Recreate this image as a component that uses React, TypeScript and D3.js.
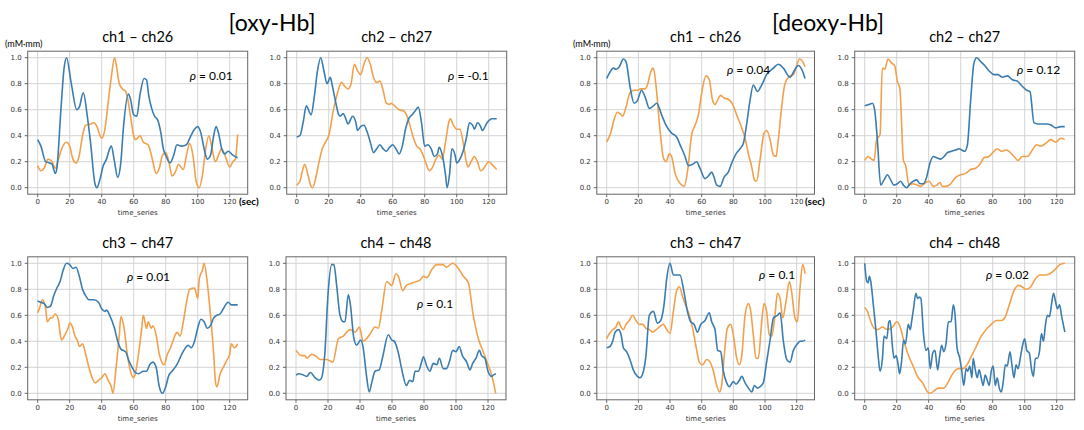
import * as React from 'react';
import {line, curveMonotoneX, scaleLinear} from 'd3';

type Pt = [number, number];

// time (sec) vs normalised Hb
const xTicks = [0, 20, 40, 60, 80, 100, 120];
const yTicks = [0, 0.2, 0.4, 0.6, 0.8, 1.0];
const groupTitles = ['[oxy-Hb]', '[deoxy-Hb]'];
const panelTitles = ['ch1 – ch26', 'ch2 – ch27', 'ch3 – ch47', 'ch4 – ch48',
    'ch1 – ch26', 'ch2 – ch27', 'ch3 – ch47', 'ch4 – ch48'];
const rhoValues = ['0.01', '-0.1', '0.01', '0.1', '0.04', '0.12', '0.1', '0.02'];
const rhoAt: Pt[] = [[95, 0.85], [94.6, 0.85], [55.8, 0.89], [75.6, 0.68],
    [76, 0.9], [95.2, 0.9], [96.2, 0.9], [75.8, 0.9]];

const oxyCh1: Pt[] = [[0,.37],[2,.32],[5,.2],[7.5,.19],[9,.18],[11,.11],[12,.15],[14.5,.6],[16.5,.92],[18,1],[21,.8],[24.4,.6],[26,.62],[28.5,.73],[31,.55],[33,.35],[35.8,.03],[37,0],[39,.07],[41,.17],[43,.22],[45,.3],[46,.32],[48,.2],[50,.08],[52,.2],[53.5,.45],[56.7,.72],[58,.68],[60,.56],[61.9,.55],[64,.72],[66.5,.84],[68,.83],[69.5,.7],[71,.62],[73,.55],[75,.52],[77,.42],[78.5,.3],[80,.25],[82.7,.19],[85,.25],[87,.33],[90,.32],[93,.33],[95,.38],[98,.45],[100,.47],[102,.42],[104,.3],[106,.22],[108,.25],[110,.4],[111.5,.47],[113,.42],[115,.3],[117,.26],[119,.28],[122,.25],[125,.23]];
const oxyCh26: Pt[] = [[0,.17],[2,.13],[4,.15],[6.5,.22],[9,.2],[11,.15],[13,.22],[15,.3],[18,.35],[20,.32],[22,.22],[24,.19],[26,.25],[28,.4],[30,.48],[33,.49],[35,.5],[37,.47],[39,.4],[40,.38],[42,.45],[44,.65],[46,.85],[48,1],[49,.95],[51,.8],[53,.76],[55,.74],[56,.7],[58,.55],[60,.4],[61,.37],[64,.4],[66,.35],[69,.33],[70,.3],[72,.2],[74,.11],[76,.15],[78,.25],[80,.27],[82,.2],[84,.09],[86,.12],[88,.18],[90,.15],[91,.14],[93,.25],[95,.34],[97,.25],[99,.05],[101,0],[103,.1],[105,.3],[107,.4],[109,.3],[111,.2],[113,.25],[115,.3],[117,.25],[120,.16],[122,.2],[123.5,.22],[125,.41]];

const oxyCh2: Pt[] = [[0,.39],[2,.4],[4,.5],[6,.63],[8,.58],[9,.56],[11,.7],[13,.9],[15,1],[17,.9],[19,.8],[21,.85],[22,.8],[24,.68],[26,.57],[27,.55],[29,.57],[31,.52],[32,.49],[35,.55],[37,.5],[38,.44],[40,.47],[42,.48],[44,.43],[46,.35],[48,.27],[50,.3],[52,.33],[54,.3],[56,.28],[58,.31],[60,.33],[62,.3],[64,.26],[66,.32],[68,.45],[70,.53],[72,.56],[74,.59],[76,.62],[78,.5],[80,.32],[82,.33],[84,.3],[86,.24],[88,.26],[89,.31],[91,.25],[93,.1],[94,0],[95.5,.1],[97,.3],[99,.25],[100,.19],[102,.22],[104,.28],[106,.38],[108,.5],[110,.48],[111,.45],[113,.5],[115,.47],[116,.44],[119,.5],[122,.53],[125,.53]];
const oxyCh27: Pt[] = [[0,.02],[2,.05],[4,.15],[5,.18],[7,.1],[9,.01],[10,0],[12,.08],[14,.2],[16,.3],[18,.35],[20,.4],[23,.6],[26,.75],[28,.81],[30,.78],[32,.76],[34,.8],[36,.95],[38,.9],[40,.87],[42,.95],[44,1],[46,.95],[48,.85],[50,.81],[52,.82],[54,.75],[56,.65],[58,.64],[59,.65],[62,.62],[64,.6],[67,.59],[69,.55],[71,.47],[73,.38],[75,.32],[77,.3],[79,.25],[81,.18],[83,.13],[85,.16],[87,.22],[89,.25],[91,.22],[93,.35],[95,.5],[96,.53],[98,.48],[100,.45],[102,.45],[104,.35],[106,.2],[107,.16],[109,.2],[111,.24],[113,.2],[115,.13],[117,.15],[120,.2],[122,.18],[125,.14]];

const oxyCh3: Pt[] = [[0,.71],[2,.7],[4,.69],[6,.66],[8,.67],[10,.75],[12,.81],[14,.86],[16,.95],[18,1],[20,.99],[22,.96],[24,.97],[26,.9],[28,.8],[30,.75],[32,.72],[35,.72],[38,.7],[40,.65],[42,.63],[43,.64],[45,.6],[48,.5],[50,.4],[52,.34],[55,.32],[57,.25],[59,.2],[61,.16],[63,.15],[66,.17],[68,.17],[70,.22],[72,.24],[74,.2],[76,.05],[78,0],[80,.05],[82,.14],[84,.17],[87,.22],[90,.3],[93,.36],[94,.37],[96,.35],[98,.4],[100,.5],[102,.57],[104,.55],[106,.5],[108,.52],[110,.58],[112,.6],[114,.61],[116,.65],[119,.7],[121,.68],[125,.68]];
const oxyCh47: Pt[] = [[0,.62],[1,.65],[3,.72],[5,.65],[6,.55],[8,.58],[9,.58],[11,.61],[13,.56],[14,.46],[15,.41],[17,.45],[19,.5],[20,.54],[22,.5],[23,.45],[25,.4],[26,.36],[28,.38],[30,.3],[32,.2],[34,.12],[36,.08],[38,.1],[40,.12],[42,.15],[44,.1],[46,.05],[47,0],[49,.2],[51,.45],[52,.59],[54,.5],[56,.3],[58,.17],[60,.12],[61,.15],[63,.3],[65,.5],[66,.6],[68,.5],[69,.55],[71,.5],[72,.52],[74,.45],[76,.3],[79,.22],[81,.3],[83,.35],[86,.45],[87,.47],[89,.44],[91,.55],[93,.7],[95,.8],[98,.81],[100,.73],[101,.88],[103,.95],[104,1],[106,.85],[108,.6],[110,.3],[111,.1],[112,.05],[114,.15],[116,.2],[118,.25],[120,.3],[121,.38],[123,.35],[125,.38]];

const oxyCh4: Pt[] = [[0,.14],[2,.15],[4.6,.14],[6.7,.13],[9,.16],[11.9,.12],[14.6,.1],[16,.12],[18,.3],[20,.76],[22.3,.99],[23.7,.99],[25.4,.83],[27.5,.6],[29.6,.55],[30.6,.55],[32.7,.76],[34,.68],[36.2,.42],[37.9,.37],[40.4,.41],[42,.35],[44,.14],[45.8,.01],[47.3,.08],[49.4,.17],[52,.18],[54,.27],[57.7,.45],[59.8,.41],[61.5,.4],[64,.31],[66,.19],[69,.06],[71,.1],[73,.09],[74.4,.17],[76.5,.17],[78.5,.24],[79.6,.28],[81.7,.21],[83.7,.17],[85.8,.23],[88,.22],[89.6,.27],[92,.19],[94,.19],[95.8,.24],[98,.33],[100,.32],[102,.36],[104,.29],[106.7,.24],[108.7,.18],[110.4,.23],[112.5,.27],[114.6,.33],[116,.29],[118,.27],[120,.17],[122.3,.13],[123.3,.14],[125,.15]];
const oxyCh48: Pt[] = [[0,.33],[3.5,.29],[5.6,.29],[6.7,.27],[9.8,.3],[13,.28],[15,.26],[19,.26],[23,.24],[26.5,.42],[29.6,.44],[33.7,.49],[37,.47],[39.6,.51],[42,.4],[46,.45],[49.4,.51],[51.5,.5],[53.5,.63],[56.7,.86],[59.8,.83],[62.5,.92],[64,.9],[66.7,.79],[69,.83],[73,.85],[77.5,.87],[79.6,.9],[81.7,.89],[84.8,.95],[88,.99],[92,.99],[94,.97],[98,1],[101.5,.96],[104.6,.9],[107.7,.85],[110.8,.6],[114,.42],[117,.32],[120,.22],[122.3,.14],[124.8,0]];

const deoxyCh1: Pt[] = [[0,.84],[2.1,.89],[4.2,.92],[5.9,.91],[8,.93],[10.5,.99],[12.2,.97],[14.7,.78],[17.3,.65],[19.4,.67],[22,.75],[24.2,.7],[27,.61],[29.5,.63],[31.6,.65],[34.7,.56],[37.5,.48],[41,.42],[44.2,.39],[46.7,.32],[49.5,.24],[51.6,.17],[54.3,.18],[56.8,.2],[58.9,.15],[62.1,.07],[64.2,.09],[66.3,.12],[67.8,.08],[69.5,.02],[71.6,.01],[74.1,.08],[76.8,.12],[79,.19],[81.7,.26],[84.2,.3],[86.3,.34],[88.4,.49],[90.5,.67],[92.6,.79],[95.2,.74],[97.9,.79],[101,.87],[105.3,.92],[108.4,.95],[111.6,.92],[115.8,.85],[118.9,.91],[121,.94],[123.2,.91],[125.3,.84]];
const deoxyCh26: Pt[] = [[0,.35],[2.5,.42],[4.6,.52],[6.7,.58],[8.4,.57],[10.1,.55],[12.2,.62],[14.7,.73],[17.3,.75],[19.4,.75],[21.5,.76],[24.2,.76],[25.7,.79],[27.8,.89],[29.5,.92],[31.2,.78],[33.7,.44],[35.8,.23],[37.5,.2],[39.6,.26],[41,.24],[43.2,.11],[45.3,.05],[47.4,.02],[49,.01],[51.2,.14],[53.7,.41],[55.8,.48],[57.9,.56],[60,.73],[62.7,.86],[64.8,.83],[66.9,.67],[68.4,.64],[69.9,.67],[72,.71],[74.1,.69],[76.8,.68],[79.6,.64],[82.1,.56],[85.3,.46],[87.4,.38],[89.5,.26],[91.6,.16],[93.3,.06],[94.7,.05],[96.8,.21],[99.4,.42],[101,.44],[103.2,.37],[105.3,.25],[107,.24],[108.4,.37],[110.5,.62],[112.6,.8],[115.8,.86],[117.9,.87],[120,.94],[121.7,.99],[123.2,.98],[125.3,.93]];

const deoxyCh2: Pt[] = [[0,.63],[2.7,.64],[4.8,.65],[6.2,.6],[7.9,.37],[10,.02],[12.1,.06],[14.2,.1],[16.2,.06],[18.3,.02],[20.4,.03],[22.5,.05],[24.2,.02],[26.2,0],[28.3,.03],[30.4,.05],[32.5,.06],[34.6,.03],[36.7,.03],[38.7,.08],[40.8,.19],[42.9,.24],[45,.23],[47.5,.22],[49.6,.24],[51.7,.27],[54.2,.28],[56.9,.29],[59,.3],[60.6,.29],[62.5,.28],[64.2,.33],[66.2,.67],[68.3,.96],[70,1],[72.5,.97],[75,.94],[77.7,.9],[80.8,.87],[83.3,.87],[86,.85],[89.2,.86],[92.3,.83],[95.4,.82],[98.5,.78],[101.2,.75],[103.3,.74],[105.8,.5],[108.3,.49],[111,.49],[113.7,.49],[116.7,.48],[119.4,.46],[122.5,.47],[125,.47]];
const deoxyCh27: Pt[] = [[0,.21],[2.1,.24],[4.2,.22],[5.8,.21],[7.5,.37],[9.6,.41],[11,.92],[12.5,.91],[14.6,.99],[16.7,.96],[18.7,.94],[20.4,.82],[22,.76],[24.2,.21],[25.6,.17],[27.7,.02],[29.8,.03],[32.9,.02],[35,.01],[37.1,.03],[40.2,.05],[42.9,.01],[45,.02],[47,.04],[48.5,.01],[50.6,.01],[53.7,.03],[56.9,.08],[60,.1],[63.1,.11],[66.2,.14],[69.4,.15],[72,.18],[74.6,.23],[77.7,.24],[80.8,.28],[82.9,.3],[85.4,.28],[88.1,.29],[90.2,.28],[93.3,.24],[95.8,.21],[98.5,.24],[101.7,.24],[104.8,.29],[107.5,.33],[110,.32],[113.1,.34],[116.2,.37],[119.4,.35],[122.5,.38],[125,.37]];

const deoxyCh3: Pt[] = [[0,.35],[2.1,.36],[3.8,.4],[5.3,.47],[7.4,.49],[9.1,.45],[10.5,.35],[12.6,.32],[14.7,.26],[16.8,.18],[19.4,.13],[21,.12],[23.2,.17],[24.8,.29],[26.9,.6],[29.5,.63],[32,.54],[34.1,.56],[36.2,.68],[37.9,.88],[40,1],[42.1,.91],[44.2,.91],[46.3,.91],[48.8,.78],[51,.63],[53,.55],[55.2,.53],[57.3,.47],[59.4,.53],[62.1,.56],[64.8,.62],[66.3,.55],[68.4,.49],[70.1,.33],[72,.32],[73.7,.17],[75.8,.08],[77.5,.05],[80,.09],[81.7,.07],[83.8,.1],[85.3,.13],[87.4,.08],[89.5,.04],[91.6,.01],[93.3,.06],[95.2,.04],[96.8,.05],[98.9,.08],[101,.24],[103.2,.41],[105.3,.58],[107.8,.6],[109.5,.62],[111.6,.4],[113.7,.26],[115.8,.24],[117.9,.33],[120.4,.38],[122.1,.4],[123.8,.4],[125.3,.41]];
const deoxyCh47: Pt[] = [[0,.42],[1.7,.46],[3.8,.49],[5.9,.51],[7.4,.55],[9.1,.51],[10.5,.49],[12.2,.53],[14.3,.56],[16.4,.6],[18.5,.56],[20.6,.53],[22.7,.53],[24.8,.5],[26.9,.49],[29,.47],[31.2,.49],[33.3,.51],[35.8,.53],[37.9,.49],[40,.46],[42.1,.63],[44.2,.79],[45.9,.82],[48,.74],[50.1,.67],[52.2,.6],[54.3,.5],[56.4,.36],[58.5,.24],[60.6,.22],[63.2,.26],[65.3,.24],[67.4,.17],[69.5,.06],[71.2,.01],[72.6,.06],[74.1,.27],[76.2,.5],[78.3,.53],[80,.45],[82.1,.27],[83.8,.22],[85.3,.29],[87.4,.6],[89.5,.69],[91,.63],[92.6,.45],[94.3,.27],[95.8,.27],[97.9,.55],[99.4,.69],[101,.63],[102.7,.45],[104.2,.44],[106.3,.6],[107.8,.77],[109.5,.73],[111.2,.58],[113.3,.71],[115.4,.86],[116.8,.78],[118.9,.58],[120.4,.55],[122.1,.81],[123.8,.99],[125.3,.92]];

const deoxyCh4: Pt[] = [[0,1],[1.3,.86],[2.1,.85],[2.9,.9],[3.8,.86],[5.4,.68],[6.9,.5],[8.4,.29],[9.6,.17],[11.1,.27],[12.1,.44],[13.8,.42],[15.1,.55],[15.9,.56],[17.4,.35],[18.4,.27],[19.7,.29],[20.9,.22],[21.8,.15],[23,.24],[24.3,.41],[25.5,.38],[27.2,.53],[28.5,.49],[29.3,.55],[30.5,.65],[32,.77],[33,.73],[34.1,.74],[35.1,.73],[36.8,.45],[38.3,.33],[39.7,.35],[41,.19],[42.5,.31],[43.9,.33],[45.6,.18],[46.9,.29],[48.1,.37],[49.4,.32],[50.8,.38],[52.3,.55],[54,.55],[55.4,.68],[56.5,.6],[57.7,.35],[59.4,.27],[60.7,.17],[61.9,.06],[63.4,.19],[64.4,.17],[65.7,.21],[67,.12],[67.8,.27],[69,.19],[70.3,.12],[71.5,.18],[72.8,.12],[74,.06],[75.3,.14],[76.6,.1],[77.8,.06],[79.1,.17],[80.3,.21],[81.6,.06],[82.8,.12],[84.1,.04],[85.4,.01],[86.6,.09],[87.9,.22],[89.1,.21],[90.8,.32],[92,.22],[93.3,.12],[94.6,.22],[95.8,.19],[97.5,.29],[98.7,.37],[100,.42],[101.3,.33],[102.9,.31],[104.2,.19],[105.4,.13],[106.7,.27],[108,.27],[109.2,.32],[110.5,.46],[111.7,.4],[113,.53],[114.2,.6],[115.5,.59],[116.7,.68],[118,.77],[119.2,.71],[120.5,.65],[121.8,.68],[123,.6],[125.1,.47]];
const deoxyCh48: Pt[] = [[0,.66],[1.7,.63],[3.8,.55],[5.9,.5],[7.9,.49],[11.1,.51],[14.2,.49],[17.4,.51],[20.1,.55],[22.2,.51],[24.3,.41],[26.8,.31],[29.9,.22],[33,.13],[36.2,.08],[39.3,.01],[41,0],[43.5,.02],[46,.04],[49.4,.04],[51.9,.08],[54,.13],[56.1,.17],[58.6,.19],[61.3,.19],[64,.22],[66.5,.28],[69.7,.36],[72.8,.44],[75.9,.49],[79.1,.53],[82.2,.56],[85.4,.56],[87.9,.59],[90.6,.69],[93.3,.79],[96.2,.83],[98.3,.82],[101,.8],[103.8,.82],[106.7,.88],[109.4,.91],[112.6,.91],[115.7,.92],[118.8,.95],[122,.99],[125.1,1]];

const blueSeries = [oxyCh1, oxyCh2, oxyCh3, oxyCh4, deoxyCh1, deoxyCh2, deoxyCh3, deoxyCh4];
const orangeSeries = [oxyCh26, oxyCh27, oxyCh47, oxyCh48, deoxyCh26, deoxyCh27, deoxyCh47, deoxyCh48];

// frame boxes [left, right, top, bottom] in px
const frames = [
    [27.7, 247.7, 51.2, 194.2], [286.7, 506.7, 51.2, 194.2],
    [27.7, 247.7, 256.8, 399.8], [286, 506, 256.8, 399.8],
    [596.8, 814.5, 51.2, 194.2], [854.7, 1074.7, 51.2, 194.2],
    [596.8, 814.5, 256.8, 399.8], [854.7, 1074.7, 256.8, 399.8],
];

const blue = '#3b7db0';
const orange = '#f2a04c';
const mplFont = '"DejaVu Sans", sans-serif';
const overlayFont = 'Lato, "Open Sans", sans-serif';

function Panel({i}: {i: number}) {
    const [l, r, t, b] = frames[i];
    const x = scaleLinear().domain([-6.25, 131.25]).range([l, r]);
    const y = scaleLinear().domain([-0.05, 1.05]).range([b, t]);
    const path = line<Pt>().x(d => x(d[0])).y(d => y(d[1])).curve(curveMonotoneX);
    const cx = (l + r) / 2;
    return (
        <g>
            <rect x={l} y={t} width={r - l} height={b - t} fill="white"/>
            {xTicks.map(v => <line key={'gx' + v} x1={x(v)} x2={x(v)} y1={t} y2={b} stroke="#cfcfcf" strokeWidth={0.9}/>)}
            {yTicks.map(v => <line key={'gy' + v} x1={l} x2={r} y1={y(v)} y2={y(v)} stroke="#cfcfcf" strokeWidth={0.9}/>)}
            <path d={path(orangeSeries[i]) || ''} fill="none" stroke={orange} strokeWidth={1.6}/>
            <path d={path(blueSeries[i]) || ''} fill="none" stroke={blue} strokeWidth={1.6}/>
            <rect x={l} y={t} width={r - l} height={b - t} fill="none" stroke="#666" strokeWidth={1}/>
            {xTicks.map(v => (
                <g key={'tx' + v}>
                    <line x1={x(v)} x2={x(v)} y1={b} y2={b + 3} stroke="#666"/>
                    <text x={x(v)} y={b + 10} fontSize={7} fill="#333" textAnchor="middle" fontFamily={mplFont}>{v}</text>
                </g>
            ))}
            {yTicks.map(v => (
                <g key={'ty' + v}>
                    <line x1={l - 3} x2={l} y1={y(v)} y2={y(v)} stroke="#666"/>
                    <text x={l - 6} y={y(v) + 2.5} fontSize={7} fill="#333" textAnchor="end" fontFamily={mplFont}>{v.toFixed(1)}</text>
                </g>
            ))}
            <text x={cx} y={b + 21} fontSize={7} fill="#333" textAnchor="middle" fontFamily={mplFont}>time_series</text>
            <text x={cx} y={t - 9} fontSize={14.5} fill="#000" textAnchor="middle" fontFamily={overlayFont}>{panelTitles[i]}</text>
            <text x={x(rhoAt[i][0])} y={y(rhoAt[i][1]) + 3} fontSize={12} fill="#000" fontFamily={overlayFont}>
                <tspan fontStyle="italic">ρ</tspan> = {rhoValues[i]}
            </text>
        </g>
    );
}

export default function App() {
    return (
        <svg width={1084} height={430} style={{position: 'absolute', left: 0, top: 0, background: 'white'}}>
            <rect width={1084} height={430} fill="white"/>
            <text x={272} y={31} fontSize={23} textAnchor="middle" fill="#000" fontFamily={overlayFont}>{groupTitles[0]}</text>
            <text x={828} y={31} fontSize={23} textAnchor="middle" fill="#000" fontFamily={overlayFont}>{groupTitles[1]}</text>
            {frames.map((_, i) => <Panel key={i} i={i}/>)}
            <text x={5} y={47} fontSize={9} fill="#000" fontFamily={overlayFont}>(mM·mm)</text>
            <text x={573} y={47} fontSize={9} fill="#000" fontFamily={overlayFont}>(mM·mm)</text>
            <text x={239} y={205} fontSize={10} fontWeight="bold" fill="#000" fontFamily={overlayFont}>(sec)</text>
            <text x={805} y={205} fontSize={10} fontWeight="bold" fill="#000" fontFamily={overlayFont}>(sec)</text>
        </svg>
    );
}
